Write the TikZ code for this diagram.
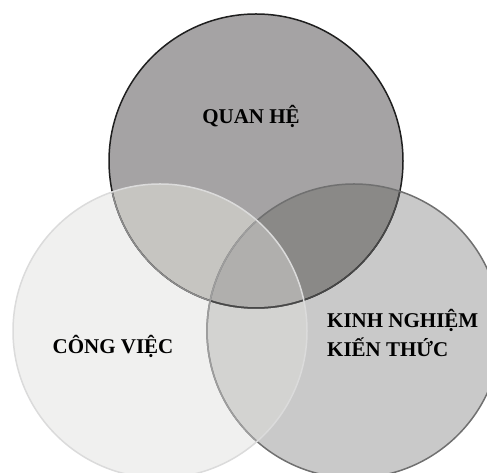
\documentclass[tikz,border=0pt]{standalone}
\usepackage{fontspec}
\setmainfont{Liberation Serif}
\definecolor{quanhe}{HTML}{A5A3A4}
\definecolor{congviec}{HTML}{F0F0EF}
\definecolor{kinhnghiem}{HTML}{C9C9C9}
\definecolor{qhcv}{HTML}{C6C5C1}
\definecolor{qhkn}{HTML}{8A8987}
\definecolor{cvkn}{HTML}{D3D3D1}
\definecolor{tatca}{HTML}{B0AFAD}
\begin{document}
\begin{tikzpicture}[x=1pt,y=1pt,
    label/.style={font=\fontsize{21}{29}\selectfont\bfseries, align=left, inner sep=0pt},
    vien/.style={line width=1.5pt}]
    \useasboundingbox (0,0) rectangle (487,473);
    \coordinate (qh) at (256,312);
    \coordinate (cv) at (160,142);
    \coordinate (kn) at (354,142);
    \def\R{147}

    \begin{scope}
        \clip (0,0) rectangle (487,473);
        % cac vong tron
        \fill[quanhe] (qh) circle (\R);
        \fill[congviec] (cv) circle (\R);
        \fill[kinhnghiem] (kn) circle (\R);

        % phan giao
        \begin{scope}
            \clip (qh) circle (\R);
            \fill[qhcv] (cv) circle (\R);
            \fill[qhkn] (kn) circle (\R);
            \clip (cv) circle (\R);
            \fill[tatca] (kn) circle (\R);
        \end{scope}
        \begin{scope}
            \clip (cv) circle (\R);
            \clip (kn) circle (\R);
            \fill[cvkn] (0,0) rectangle (487,473);
            \clip (qh) circle (\R);
            \fill[tatca] (qh) circle (\R);
        \end{scope}

        % duong vien
        \draw[vien, draw=black!88] (qh) circle (\R);
        \begin{scope}
            \clip (cv) circle (\R);
            \draw[vien, draw=black!45] (qh) circle (\R);
        \end{scope}
        \begin{scope}
            \clip (kn) circle (\R);
            \draw[vien, draw=black!72] (qh) circle (\R);
        \end{scope}
        \draw[vien, draw=black!56] (kn) circle (\R);
        \begin{scope}
            \clip (cv) circle (\R);
            \draw[vien, draw=black!38] (kn) circle (\R);
        \end{scope}
        \draw[vien, draw=black!14] (cv) circle (\R);
    \end{scope}

    \node[label] (tQuanHe) at (251,357) {QUAN HỆ};
    \node[label] (tCongViec) at (113,127) {CÔNG VIỆC};
    \node[label, anchor=west] (tKinhNghiem) at (327,140) {KINH NGHIỆM\\KIẾN THỨC};
\end{tikzpicture}
\end{document}
